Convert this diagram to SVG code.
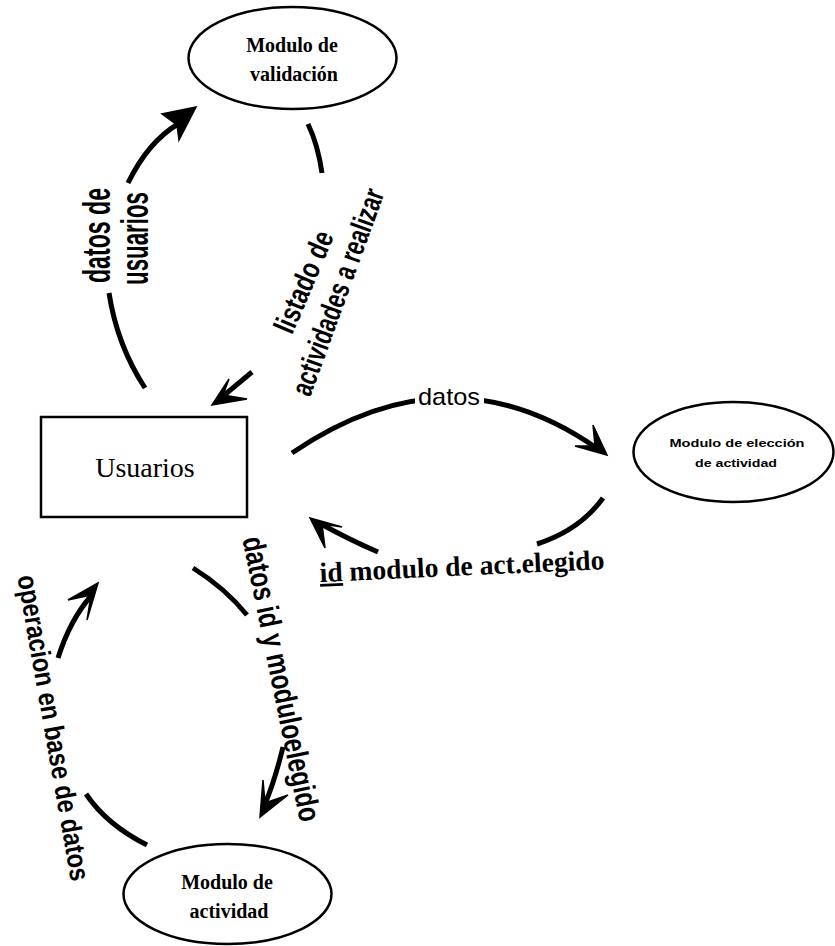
<svg xmlns="http://www.w3.org/2000/svg" width="835" height="946" viewBox="0 0 835 946">
<style>
.node{fill:#fff;stroke:#000;stroke-width:2.5}
.c{fill:none;stroke:#000;stroke-width:5}
.h{fill:#000;stroke:#000;stroke-width:1.5;stroke-linejoin:miter}
.serif{font-family:"Liberation Serif","Times New Roman",serif;fill:#000}
.sans{font-family:"Liberation Sans",Arial,sans-serif;fill:#000}
.rot{font-family:"Liberation Sans",Arial,sans-serif;font-weight:bold;fill:#000}
</style>
<rect width="835" height="946" fill="#fff"/>
<g id="connectors">
  <!-- Usuarios -> Modulo de validacion -->
  <path class="c" d="M145,388 Q117,345 109,293"/>
  <path class="c" d="M128,183 Q148,142 178,124"/>
  <polygon class="h" points="196,107 162,114 177,125 179,140"/>
  <!-- Modulo de validacion -> Usuarios -->
  <path class="c" d="M308,124 Q318,145 322,173"/>
  <path class="c" d="M252,372 L222,397"/>
  <polygon class="h" points="212,405 229,379 223,395 247,399"/>
  <!-- Usuarios -> Modulo de eleccion -->
  <path class="c" d="M292,453 Q450,345 598,449"/>
  <rect x="415" y="385" width="69" height="24" fill="#fff"/>
  <polygon class="h" points="607,455 593,425 595,446 575,446"/>
  <!-- Modulo de eleccion -> Usuarios -->
  <path class="c" d="M603,498 Q580,530 537,544"/>
  <path class="c" d="M378,552 Q350,540 321,524"/>
  <polygon class="h" points="310,518 342,527 322,524 325,548"/>
  <!-- Usuarios -> Modulo de actividad -->
  <path class="c" d="M193,568 Q225,588 247,615"/>
  <path class="c" d="M283,747 Q275,780 265,804"/>
  <polygon class="h" points="260,817 263,780 265,803 288,795"/>
  <!-- Modulo de actividad -> Usuarios -->
  <path class="c" d="M147,845 Q107,825 86,794"/>
  <path class="c" d="M58,658 Q70,620 91,596"/>
  <polygon class="h" points="98,583 68,600 91,595 87,620"/>
</g>
<g id="labels">
  <text class="rot" font-size="38" text-anchor="middle" textLength="95" lengthAdjust="spacingAndGlyphs" transform="translate(110,235.5) rotate(-90)">datos de</text>
  <text class="rot" font-size="38" text-anchor="middle" textLength="93" lengthAdjust="spacingAndGlyphs" transform="translate(148,238.5) rotate(-90)">usuarios</text>
  <text class="rot" font-size="30" text-anchor="middle" y="10" textLength="108" lengthAdjust="spacingAndGlyphs" transform="translate(304,282) rotate(-67)">listado de</text>
  <text class="rot" font-size="30" text-anchor="middle" y="10" textLength="218" lengthAdjust="spacingAndGlyphs" transform="translate(338,292) rotate(-70)">actividades a realizar</text>
  <text class="sans" font-size="24" x="418" y="405" textLength="62" lengthAdjust="spacingAndGlyphs">datos</text>
  <text class="serif" font-size="28" font-weight="bold" x="320" y="582" textLength="285" lengthAdjust="spacingAndGlyphs" transform="rotate(-2.6,320,582)"><tspan text-decoration="underline">id</tspan> modulo de act.elegido</text>
  <text class="rot" font-size="31" text-anchor="middle" y="10" textLength="290" lengthAdjust="spacingAndGlyphs" transform="translate(281,679) rotate(78.5)">datos id y moduloelegido</text>
  <text class="rot" font-size="28" text-anchor="middle" y="8" textLength="310" lengthAdjust="spacingAndGlyphs" transform="translate(52,728) rotate(80)">operacion en base de datos</text>
</g>
<g id="validacion">
  <ellipse class="node" cx="292.5" cy="58" rx="104" ry="51"/>
  <text class="serif" font-size="20" font-weight="bold" text-anchor="middle" x="292" y="52">Modulo de</text>
  <text class="serif" font-size="20" font-weight="bold" text-anchor="middle" x="294" y="81">validación</text>
</g>
<g id="usuarios">
  <rect class="node" x="41" y="417" width="206" height="100"/>
  <text class="serif" font-size="28" text-anchor="middle" x="145" y="477">Usuarios</text>
</g>
<g id="eleccion">
  <ellipse class="node" cx="733.5" cy="452" rx="100" ry="50"/>
  <text class="sans" font-size="11.5" font-weight="bold" text-anchor="middle" x="737" y="447" textLength="135" lengthAdjust="spacingAndGlyphs">Modulo de elección</text>
  <text class="sans" font-size="11.5" font-weight="bold" text-anchor="middle" x="736" y="467" textLength="82" lengthAdjust="spacingAndGlyphs">de actividad</text>
</g>
<g id="actividad">
  <ellipse class="node" cx="227.5" cy="894" rx="104" ry="50"/>
  <text class="serif" font-size="20" font-weight="bold" text-anchor="middle" x="227" y="889">Modulo de</text>
  <text class="serif" font-size="20" font-weight="bold" text-anchor="middle" x="229" y="918">actividad</text>
</g>
</svg>
